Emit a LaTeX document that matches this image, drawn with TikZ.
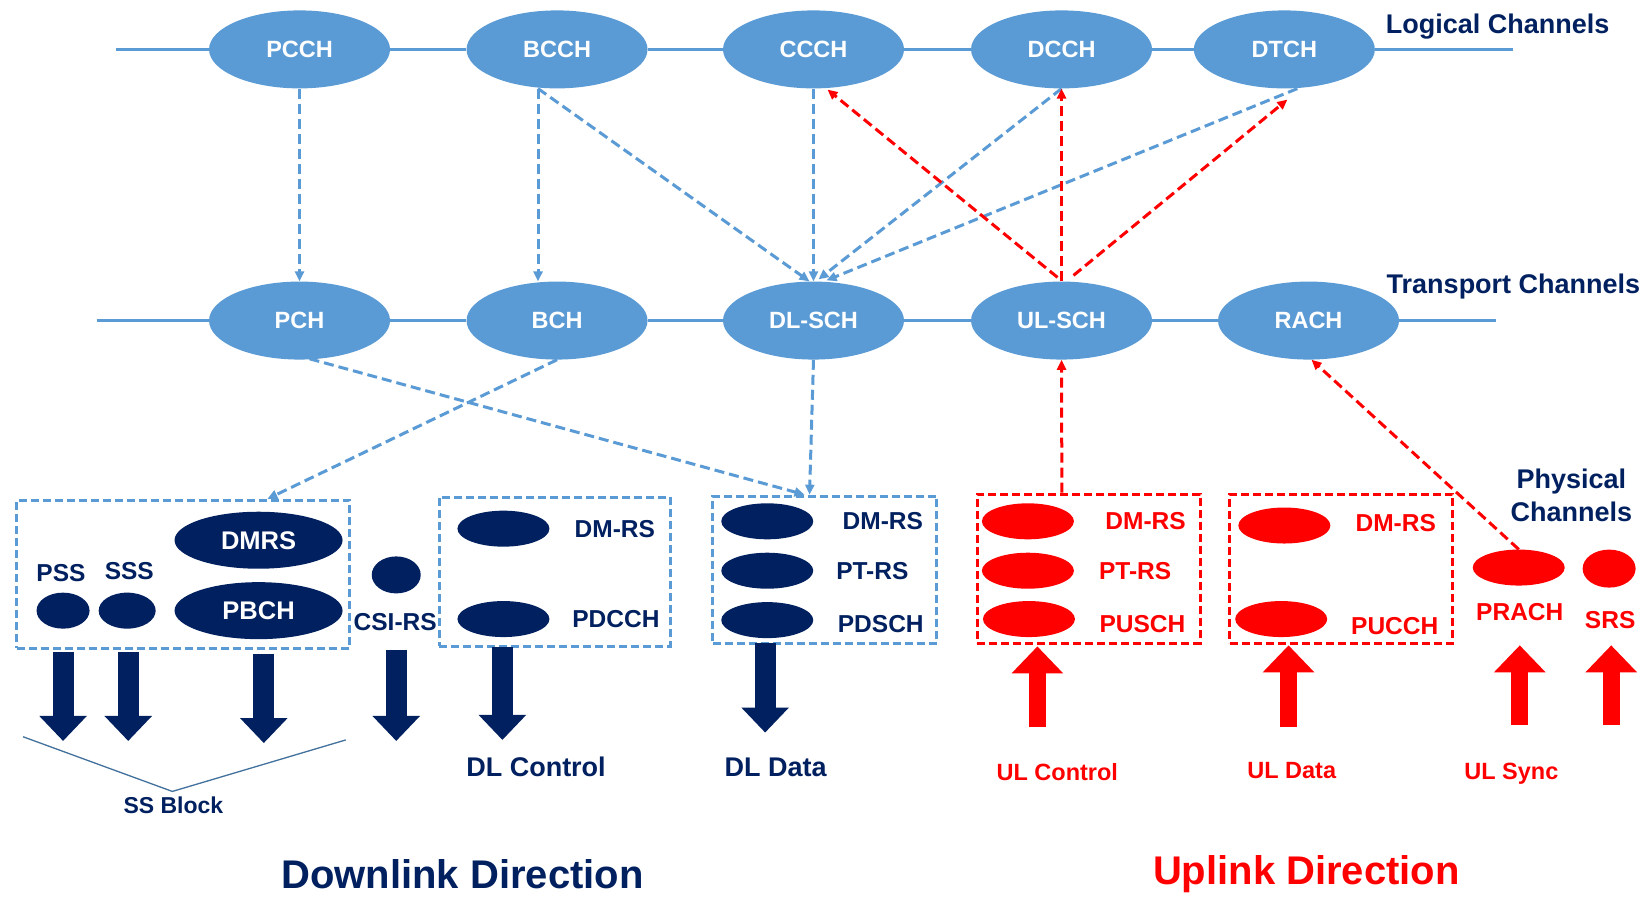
\documentclass[tikz,border=0pt]{standalone}
\usepackage{fontspec}
\setmainfont{Liberation Sans}
\usetikzlibrary{arrows.meta,shapes.geometric}
\definecolor{chblue}{RGB}{91,155,213}
\definecolor{navy}{RGB}{0,32,96}
\definecolor{ulred}{RGB}{255,0,0}
\definecolor{bracec}{RGB}{65,113,156}
\begin{document}
\begin{tikzpicture}[x=1.051pt,y=-1.051pt,
 fs/.style={font=\fontsize{#1}{#1}\selectfont\bfseries},
 chan/.style={ellipse, fill=chblue, minimum width=181pt, minimum height=78pt, inner sep=0pt, text=white, fs=23.5},
 phy/.style={ellipse, fill=#1, minimum width=92pt, minimum height=36pt, inner sep=0pt},
 lbl/.style={text=navy, fs=24.5, inner sep=0pt},
 rlbl/.style={text=ulred, fs=24.5, inner sep=0pt},
 bus/.style={draw=chblue, line width=3pt},
 blink/.style={draw=chblue, line width=3pt, dash pattern=on 10pt off 5pt, -{Triangle[length=10pt,width=9pt]}},
 rlink/.style={draw=ulred, line width=3pt, dash pattern=on 10pt off 5pt, -{Triangle[length=10pt,width=9pt]}},
 dbox/.style={draw=chblue, line width=3pt, dash pattern=on 8pt off 4pt, inner sep=0pt},
 rbox/.style={draw=ulred, line width=3pt, dash pattern=on 8pt off 4pt, inner sep=0pt},
 dlarrow/.style={draw=navy, line width=21pt, -{Triangle[length=25pt,width=46pt]}},
 ularrow/.style={draw=ulred, line width=17pt, -{Triangle[length=27pt,width=50pt]}},
]
\useasboundingbox (0,0) rectangle (1568,853);
\fill[white] (0,0) rectangle (1568,853);

% logical channels
\node[chan] (PCCH) at (285,47) {PCCH};
\node[chan] (BCCH) at (530,47) {BCCH};
\node[chan] (CCCH) at (774,47) {CCCH};
\node[chan] (DCCH) at (1010,47) {DCCH};
\node[chan] (DTCH) at (1222,47) {DTCH};
\coordinate (L0) at (110,47);
\coordinate (L1) at (1440,47);
\draw[bus] (L0) -- (PCCH) -- (BCCH) -- (CCCH) -- (DCCH) -- (DTCH) -- (L1);
\node[text=navy, fs=27, inner sep=0pt] (logt) at (1425,25) {Logical Channels};

% transport channels
\node[chan] (PCH) at (285,305) {PCH};
\node[chan] (BCH) at (530,305) {BCH};
\node[chan] (DLSCH) at (774,305) {DL-SCH};
\node[chan] (ULSCH) at (1010,305) {UL-SCH};
\node[chan] (RACH) at (1245,305) {RACH};
\coordinate (T0) at (92,305);
\coordinate (T1) at (1423,305);
\draw[bus] (T0) -- (PCH) -- (BCH) -- (DLSCH) -- (ULSCH) -- (RACH) -- (T1);
\node[text=navy, fs=27, inner sep=0pt] (trt) at (1440,273) {Transport Channels};

% boxes
\node[dbox, minimum width=333pt, minimum height=148pt] (ssbox) at (174.5,546.5) {};
\node[dbox, minimum width=231pt, minimum height=149pt] (dlcbox) at (528,544) {};
\node[dbox, minimum width=224pt, minimum height=147pt] (dldbox) at (784.5,542) {};
\node[rbox, minimum width=223pt, minimum height=149pt] (ulcbox) at (1036,541) {};
\node[rbox, minimum width=223pt, minimum height=149pt] (uldbox) at (1276,541) {};

% SS block contents
\node[lbl] (psst) at (58,545) {PSS};
\node[lbl] (ssst) at (123,543) {SSS};
\node[phy=navy, minimum width=53pt] (pss) at (60,581) {};
\node[phy=navy, minimum width=57pt] (sss) at (121,581) {};
\node[phy=navy, minimum width=168pt, minimum height=57pt, text=white, fs=25.5] (dmrs) at (246,514) {DMRS};
\node[phy=navy, minimum width=168pt, minimum height=57pt, text=white, fs=25.5] (pbch) at (246,581) {PBCH};
\node[phy=navy, minimum width=49pt, minimum height=37pt] (csi) at (377,547) {};
\node[lbl] (csit) at (376,592) {CSI-RS};

% DL control
\node[phy=navy] (dlc1) at (479,503) {};
\node[phy=navy] (dlc2) at (479,589) {};
\node[lbl] (dlc1t) at (585,503) {DM-RS};
\node[lbl] (dlc2t) at (586,589) {PDCCH};

% DL data
\node[phy=navy] (dld1) at (730,496) {};
\node[phy=navy] (dld2) at (730,543) {};
\node[phy=navy] (dld3) at (730,590) {};
\node[lbl] (dld1t) at (840,496) {DM-RS};
\node[lbl] (dld2t) at (830,543) {PT-RS};
\node[lbl] (dld3t) at (838,594) {PDSCH};

% UL control
\node[phy=ulred] (ulc1) at (978,496) {};
\node[phy=ulred] (ulc2) at (978,543) {};
\node[phy=ulred] (ulc3) at (979,589) {};
\node[rlbl] (ulc1t) at (1090,496) {DM-RS};
\node[rlbl] (ulc2t) at (1080,543) {PT-RS};
\node[rlbl] (ulc3t) at (1087,594) {PUSCH};

% UL data
\node[phy=ulred] (uld1) at (1222,500) {};
\node[phy=ulred] (uld2) at (1219,589) {};
\node[rlbl] (uld1t) at (1328,498) {DM-RS};
\node[rlbl] (uld2t) at (1327,596) {PUCCH};

% PRACH / SRS
\node[phy=ulred] (prach) at (1445,540) {};
\node[phy=ulred, minimum width=53pt, minimum height=38pt] (srs) at (1531,541) {};
\node[rlbl] (pracht) at (1446,582) {PRACH};
\node[rlbl] (srst) at (1532,590) {SRS};
\node[text=navy, inner sep=0pt, align=center, font=\fontsize{27}{33}\selectfont\bfseries] (phyt) at (1495,471) {Physical\\Channels};

% logical -> transport (blue)
\draw[blink] (PCCH) -- (PCH);
\draw[blink] ([xshift=-19pt]BCCH.south) -- ([xshift=-19pt]BCH.north);
\draw[blink] ([xshift=-19pt]BCCH.south) -- ([xshift=-4pt]DLSCH.north);
\draw[blink] (CCCH.south) -- (DLSCH.north);
\draw[blink] (DCCH.south) -- ([xshift=5pt,yshift=2pt]DLSCH.north);
\draw[blink] ([xshift=13pt]DTCH.south) -- ([xshift=13pt,yshift=1pt]DLSCH.north);

% transport -> logical (red)
\draw[rlink] ([xshift=-4pt,yshift=4pt]ULSCH.north) -- ([xshift=14pt,yshift=-1pt]CCCH.south);
\draw[rlink] (ULSCH.north) -- (DCCH.south);
\draw[rlink] ([xshift=12pt,yshift=6pt]ULSCH.north) -- ([xshift=3pt,yshift=-11pt]DTCH.south);

% transport -> physical
\draw[blink] ([xshift=10pt,yshift=1pt]PCH.south) -- ([xshift=-20pt]dldbox.north);
\draw[blink] (BCH.south) -- ([xshift=84pt]ssbox.north);
\draw[blink] (DLSCH.south) -- ([xshift=-15pt]dldbox.north);

% physical -> transport (red)
\draw[rlink] ([xshift=-27pt]ulcbox.north) -- (ULSCH.south);
\draw[rlink] (prach.north) -- ([xshift=3pt]RACH.south);

% block arrows downlink
\draw[dlarrow] (60,620) -- (60,705);
\draw[dlarrow] (122,620) -- (122,705);
\draw[dlarrow] (251,622) -- (251,707);
\draw[dlarrow] (377,618) -- (377,705);
\draw[dlarrow] (478,616) -- (478,704);
\draw[dlarrow] (728,612) -- (728,697);

% block arrows uplink
\draw[ularrow] (987,692) -- (987,615);
\draw[ularrow] (1226,692) -- (1226,614);
\draw[ularrow] (1446,690) -- (1446,614);
\draw[ularrow] (1533,690) -- (1533,614);

% SS block brace
\coordinate (B0) at (22,701);
\coordinate (B1) at (164,753);
\coordinate (B2) at (329,704);
\draw[bracec, line width=1.3pt] (B0) -- (B1) -- (B2);
\node[text=navy, fs=23, inner sep=0pt] (sst) at (165,766) {SS Block};

% group labels
\node[lbl, fs=27] (dlct) at (510,730) {DL Control};
\node[lbl, fs=27] (dldt) at (738,730) {DL Data};
\node[rlbl, fs=23.5] (ulct) at (1006,735) {UL Control};
\node[rlbl, fs=23.5] (uldt) at (1229,733) {UL Data};
\node[rlbl, fs=23.5] (ulst) at (1438,736) {UL Sync};

\node[text=navy, fs=40, inner sep=0pt] (dldir) at (440,832) {Downlink Direction};
\node[text=ulred, fs=40, inner sep=0pt] (uldir) at (1243,832) {Uplink Direction};
\end{tikzpicture}
\end{document}
